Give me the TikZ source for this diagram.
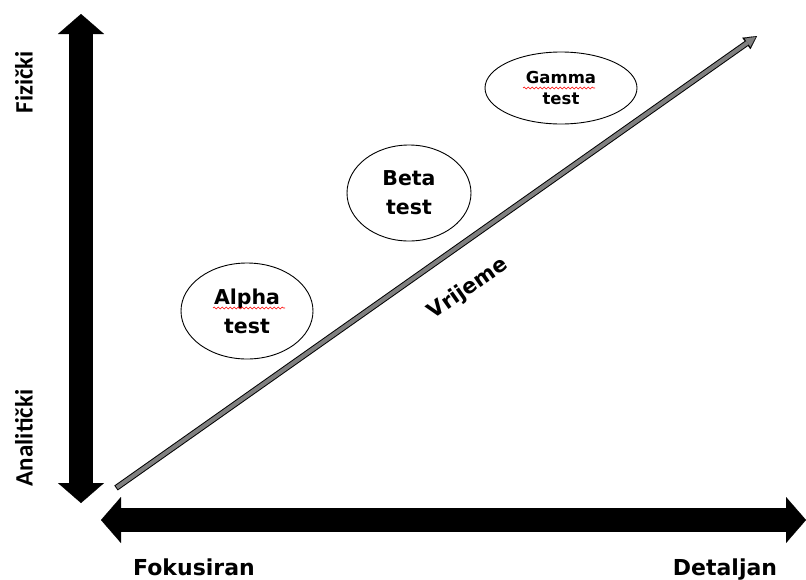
\documentclass[tikz,border=0pt]{standalone}
\usepackage{fontspec}
\setmainfont{DejaVu Sans}
\newfontfamily\calibri{Carlito}
\usetikzlibrary{arrows.meta,shapes.geometric,decorations.pathmorphing}
\tikzset{
  phase/.style={draw,ellipse,line width=0.9pt,inner sep=0pt,align=center,font=\bfseries\fontsize{20.5}{29}\selectfont},
  axis/.style={line width=24pt,{Triangle[length=20pt,width=46pt,line width=0.1pt]}-{Triangle[length=20pt,width=46pt,line width=0.1pt]}},
  axlabel/.style={anchor=base,font=\bfseries\fontsize{22}{26}\selectfont},
  sidelabel/.style={rotate=90,font=\calibri\bfseries\fontsize{25}{30}\selectfont},
  spell/.style={red,line width=0.6pt,decorate,decoration={snake,amplitude=0.9pt,segment length=4pt}},
}

\begin{document}
\begin{tikzpicture}[x=1pt,y=-1pt]
  \useasboundingbox (0,0) rectangle (806,579);
  % axes
  \coordinate (vtop) at (81,14);
  \coordinate (vbot) at (81,503);
  \coordinate (hleft) at (101,520);
  \coordinate (hright) at (806,520);
  \draw[axis] (vbot) -- (vtop);
  \draw[axis] (hleft) -- (hright);
  \node[sidelabel] (fiz) at (24,82) {Fizički};
  \node[sidelabel] (anal) at (24,438) {Analitički};
  \node[axlabel] (fok) at (194,575) {Fokusiran};
  \node[axlabel] (det) at (725,575) {Detaljan};
  % time line
  \coordinate (t0) at (116,488);
  \coordinate (t1) at (757,36);
  \draw[line width=6pt,-{Triangle[length=13pt,width=14pt,line width=0.1pt]}] (t0) -- (t1);
  \draw[line width=4pt,gray,shorten <=1pt,shorten >=1.6pt,-{Triangle[length=10pt,width=10pt,line width=0.1pt]}] (t0) -- (t1);
  \node[rotate=35,inner sep=0pt,font=\bfseries\fontsize{21}{24}\selectfont] (vri) at (468,289) {Vrijeme};
  % phases
  \node[phase,minimum width=132pt,minimum height=96pt] (alpha) at (247,311) {Alpha\\test};
  \node[phase,minimum width=124pt,minimum height=96pt] (beta) at (409,193) {Beta\\test};
  \node[phase,minimum width=152pt,minimum height=72pt,font=\bfseries\fontsize{16.5}{21}\selectfont] (gamma) at (561,88) {Gamma\\test};
  \draw[spell] ([xshift=-34pt,yshift=3pt]alpha.center) -- ([xshift=38pt,yshift=3pt]alpha.center);
  \draw[spell] ([xshift=-38pt,yshift=0pt]gamma.center) -- ([xshift=34pt,yshift=0pt]gamma.center);
\end{tikzpicture}
\end{document}
